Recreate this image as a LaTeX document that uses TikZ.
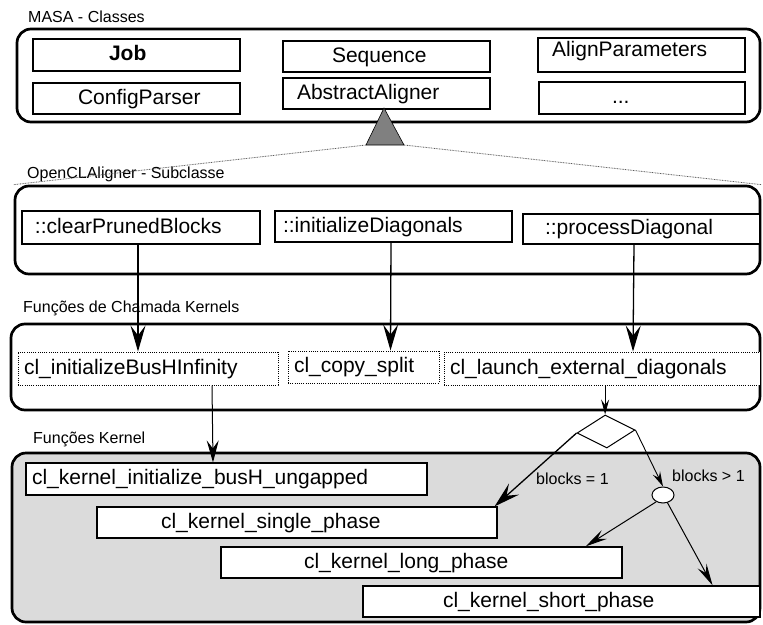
\documentclass[tikz,border=0pt]{standalone}
\usepackage{fontspec}
\setmainfont{Liberation Sans}
\usetikzlibrary{arrows.meta,shapes.geometric}
% horizontal indent of a box caption from the box's left edge
\newcommand{\boxpad}[1]{\hspace*{#1pt}}
\tikzset{
  group/.style={draw, line width=2.7pt, rounded corners=14pt, inner sep=0pt},
  cls/.style 2 args={draw, line width=1.2pt, fill=white, inner sep=0pt,
    minimum width=#1, text width=#1, minimum height=#2, align=left,
    text height=15pt, text depth=4pt, font=\fontsize{21}{24}\selectfont},
  kcall/.style={line width=1pt, dash pattern=on 1pt off 1.2pt},
  lbl/.style={anchor=base west, inner sep=0pt, font=\fontsize{16}{18}\selectfont},
  big/.style={line width=1.3pt, -{Stealth[length=26pt,width=15pt,inset=10pt]}},
  mid/.style={line width=1pt, -{Stealth[length=22pt,width=12pt,inset=8pt]}},
  thin/.style={line width=1pt, -{Stealth[length=22pt,width=10pt,inset=8pt]}},
  small/.style={line width=0.9pt, -{Stealth[length=15pt,width=8pt,inset=5.5pt]}},
  inherit/.style={line width=0.8pt, draw=black!65, dash pattern=on 0.8pt off 0.8pt}
}
\begin{document}
\begin{tikzpicture}[x=1pt,y=-1pt]
\useasboundingbox (0,0) rectangle (763,624);

% ---- MASA classes -------------------------------------------------
\node[lbl] (tmasa) at (28,22) {MASA - Classes};
\node[group, minimum width=743pt, minimum height=93pt] (g1) at (388.5,75.5) {};
\node[cls={207pt}{32pt}] (job) at (136.5,55) {\boxpad{76}\bfseries Job};
\node[cls={207pt}{31pt}] (seq) at (386.5,56.5) {\boxpad{49}Sequence};
\node[cls={207pt}{34pt}, text depth=12pt] (alp) at (641.5,55) {\boxpad{14}AlignParameters};
\node[cls={207pt}{31pt}] (cfg) at (136.5,98.5) {\boxpad{45}ConfigParser};
\node[cls={207pt}{31pt}] (abs) at (386.5,93.5) {\boxpad{14}AbstractAligner};
\node[cls={206pt}{32pt}] (etc) at (642,98) {\boxpad{73}...};

% ---- OpenCLAligner subclass ----------------------------------------
\node[group, minimum width=745pt, minimum height=88pt] (g2) at (387.5,230) {};
\node[lbl] (tocl) at (27,178) {OpenCLAligner - Subclasse};
\node[cls={238pt}{33pt}] (clear) at (141,227.5) {\boxpad{13}::clearPrunedBlocks};
\node[cls={237pt}{31pt}] (initd) at (393.5,226.5) {\boxpad{8}::initializeDiagonals};
\node[cls={237pt}{30pt}] (proc) at (641.5,229) {\boxpad{22}::processDiagonal};

% inheritance triangle
\coordinate (tapex) at (384,108);
\coordinate (tleft) at (366,145);
\coordinate (tright) at (404,145);
\draw[inherit] (tleft) -- (g2.north west);
\draw[inherit] (tright) -- (g2.north east);
\draw[line width=0.6pt, fill=black!50] (tapex) -- (tright) -- (tleft) -- cycle;

% ---- kernel call functions -----------------------------------------
\node[lbl] (tcall) at (23,312) {Funções de Chamada Kernels};
\node[group, minimum width=749pt, minimum height=86pt] (g3) at (385.5,367) {};
\node[cls={260pt}{33pt}, kcall] (ibh) at (148,368.5) {\boxpad{6}cl\_initializeBusHInfinity};
\node[cls={151pt}{32pt}, kcall] (copy) at (363.5,367) {\boxpad{6}cl\_copy\_split};
\node[cls={316pt}{33pt}, kcall] (launch) at (602,368.5) {\boxpad{6}cl\_launch\_external\_diagonals};

% ---- kernel functions ----------------------------------------------
\node[lbl] (tkern) at (33,443) {Funções Kernel};
\node[group, fill=black!14, minimum width=748pt, minimum height=169pt] (g4) at (386,537.5) {};
\node[cls={401pt}{32pt}] (ungap) at (226.5,479) {\boxpad{6}cl\_kernel\_initialize\_busH\_ungapped};
\node[cls={400pt}{31pt}] (single) at (297,522.5) {\boxpad{64}cl\_kernel\_single\_phase};
\node[cls={401pt}{31pt}] (long) at (421.5,562.5) {\boxpad{83}cl\_kernel\_long\_phase};
\node[cls={397pt}{31pt}] (short) at (561.5,601.5) {\boxpad{80}cl\_kernel\_short\_phase};

% decision and merge points
\node[draw, diamond, fill=white, line width=1pt, inner sep=0pt,
      minimum width=58pt, minimum height=33pt, rotate=3] (dia) at (606,431.5) {};
\node[draw, ellipse, fill=white, line width=1pt, inner sep=0pt,
      minimum width=22pt, minimum height=16pt] (circ) at (663,495) {};
\node[lbl] (tb1) at (536,484) {blocks = 1};
\node[lbl] (tb2) at (672,481) {blocks > 1};

% ---- calls ---------------------------------------------------------
\draw[big] ([xshift=-3pt]clear.south) -- ([xshift=-10pt]ibh.north);
\draw[big] ([xshift=-2.5pt]initd.south) -- ([xshift=27pt]copy.north);
\draw[big] ([xshift=-7.5pt]proc.south) -- ([xshift=31pt]launch.north);
\draw[mid] ([xshift=64pt]ibh.south) -- ([xshift=-13.5pt]ungap.north);
\draw[small] (dia.north |- launch.south) -- (dia.north);
\draw[big] (dia.west) -- ([xshift=-3pt]single.north east);
\draw[small] (dia.east) -- (circ.north);
\draw[thin] (circ.225) -- ([xshift=-37pt]long.north east);
\draw[thin] (circ.-60) -- ([xshift=-48pt]short.north east);
\end{tikzpicture}
\end{document}
